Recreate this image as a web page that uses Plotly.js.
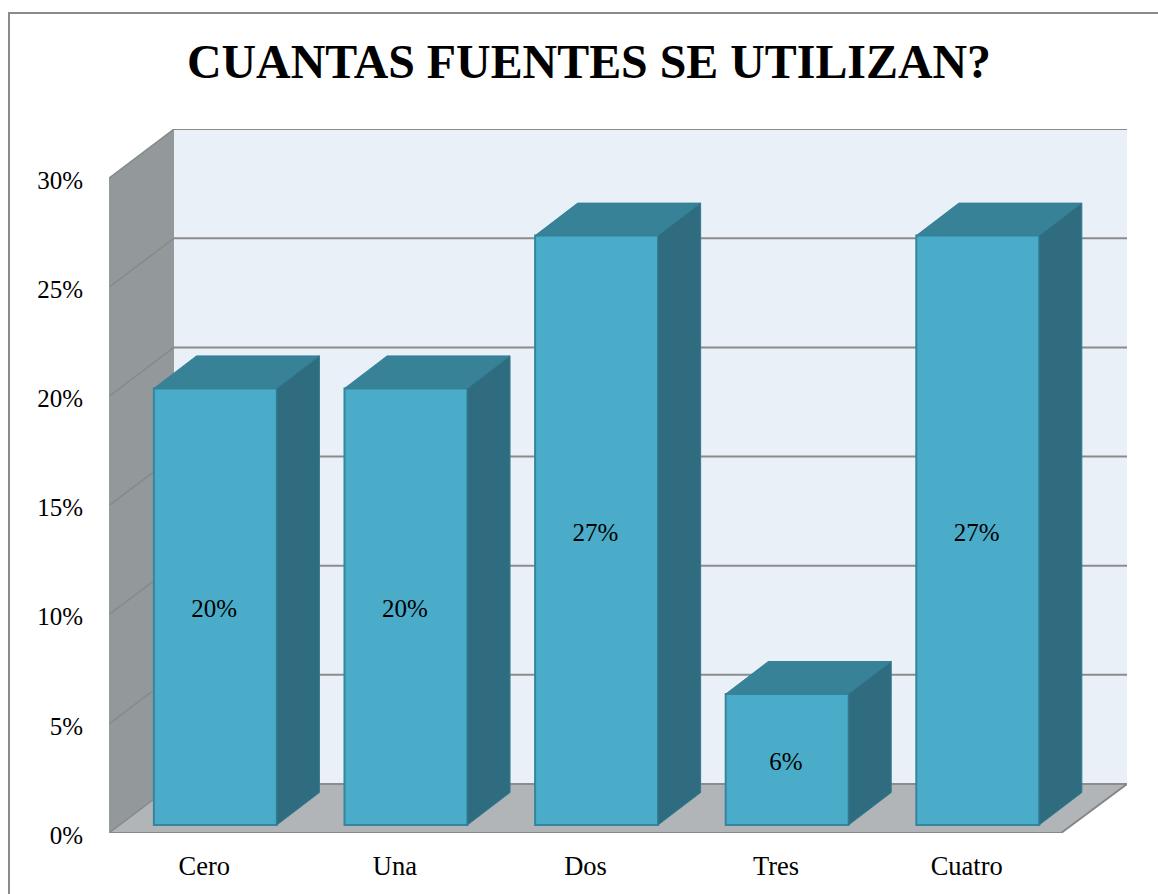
<!DOCTYPE html>
<html>
<head>
<meta charset="utf-8">
<script src="https://cdn.plot.ly/plotly-3.0.1.min.js"></script>
<style>html,body{margin:0;padding:0;background:#fff}#chart{width:1158px;height:894px}</style>
</head>
<body>
<div id="chart"></div>
<script>
const chartTitle = 'CUANTAS FUENTES SE UTILIZAN?';
const categories = ['Cero', 'Una', 'Dos', 'Tres', 'Cuatro'];
const values = [20, 20, 27, 6, 27];
const gridValues = [0, 5, 10, 15, 20, 25, 30];
const tickLabels = ['0%', '5%', '10%', '15%', '20%', '25%', '30%'];

// fake-3D depth, in axis units
const xMin = -0.5, xMax = 4.841, xFrontEnd = 4.495;
const yMax = 32.25, yTop = 30;
const wallDX = 0.341, wallDY = 2.245;
const barOffX = 0.058, barOffY = 0.366, barW = 0.645;
const barDX = 0.2235, barDY = 1.489;
const labelNudgeX = -0.006, labelNudgeY = -0.2;

const FONT = '"Liberation Serif", "Times New Roman", serif';
const pathOf = pts => 'M' + pts.map(p => p[0] + ',' + p[1]).join('L') + 'Z';
const linePath = pts => 'M' + pts.map(p => p[0] + ',' + p[1]).join('L');
const dataShape = (path, fill, lineColor, lineW) => ({
  type: 'path', xref: 'x', yref: 'y', layer: 'below', path: path,
  fillcolor: fill || 'rgba(0,0,0,0)', line: {color: lineColor || 'rgba(0,0,0,0)', width: lineW || 0}
});

const shapes = [];
const backL = xMin + wallDX, backR = xMax;
// back wall
shapes.push(dataShape(pathOf([[backL, wallDY], [backR, wallDY], [backR, yTop + wallDY], [backL, yTop + wallDY]]), '#e9f0f7'));
// side wall
shapes.push(dataShape(pathOf([[xMin, 0], [backL, wallDY], [backL, yTop + wallDY], [xMin, yTop]]), '#93989a'));
// floor
shapes.push(dataShape(pathOf([[xMin, 0], [xFrontEnd, 0], [backR, wallDY], [backL, wallDY]]), '#b1b5b8'));
// grid lines
gridValues.forEach(g => {
  shapes.push(dataShape(linePath([[xMin, g], [backL, g + wallDY]]), null, '#858a8b', 1.5));
  shapes.push(dataShape(linePath([[backL, g + wallDY], [backR, g + wallDY]]), null, '#8b8c8c', 2));
});
shapes.push(dataShape(linePath([[xMin, 0], [xFrontEnd, 0], [backR, wallDY]]), null, '#85888a', 2));
shapes.push(dataShape(linePath([[xMin, 0], [xMin, yTop]]), null, '#9a9ea0', 1));
// outer frame
const fx = px => (px - 109) / 1018, fy = py => (833 - py) / 704;
shapes.push({type: 'path', xref: 'paper', yref: 'paper', layer: 'below',
  path: 'M' + fx(9) + ',' + fy(894) + 'L' + fx(9) + ',' + fy(13) + 'L' + fx(1158) + ',' + fy(13),
  line: {color: '#8b8b8b', width: 2}});

const traces = [];
const barX = categories.map((c, i) => i + barOffX);
// front faces
traces.push({
  type: 'bar', x: barX, y: values, base: barOffY, width: barW,
  marker: {color: '#4aacc9', line: {color: '#34869f', width: 2}},
  hoverinfo: 'skip', showlegend: false
});
// top and right faces
values.forEach((v, i) => {
  const l = barX[i] - barW / 2, r = barX[i] + barW / 2, t = v + barOffY, b = barOffY;
  traces.push({type: 'scatter', mode: 'lines', fill: 'toself', fillcolor: '#388298',
    x: [l, r, r + barDX, l + barDX, l], y: [t, t, t + barDY, t + barDY, t],
    line: {color: '#34809a', width: 1}, hoverinfo: 'skip', showlegend: false});
  traces.push({type: 'scatter', mode: 'lines', fill: 'toself', fillcolor: '#306c7f',
    x: [r, r + barDX, r + barDX, r, r], y: [b, b + barDY, t + barDY, t, b],
    line: {color: '#307a90', width: 1}, hoverinfo: 'skip', showlegend: false});
});
// value labels
traces.push({type: 'scatter', mode: 'text',
  x: barX.map(x => x + labelNudgeX), y: values.map(v => barOffY + v / 2 + labelNudgeY),
  text: values.map(v => v + '%'), textposition: 'middle center',
  textfont: {family: FONT, size: 25, color: '#000'}, hoverinfo: 'skip', showlegend: false});

const layout = {
  width: 1158, height: 894,
  margin: {l: 109, r: 31, t: 129, b: 61, pad: 0},
  paper_bgcolor: '#ffffff', plot_bgcolor: 'rgba(0,0,0,0)',
  showlegend: false,
  font: {family: FONT, size: 25, color: '#000'},
  title: {text: chartTitle, x: 589 / 1158, xanchor: 'center', xref: 'container', y: 1 - 61 / 894, yanchor: 'middle', yref: 'container',
    font: {family: FONT, size: 47.9, weight: 700, color: '#000'}},
  xaxis: {range: [xMin, xMax], tickmode: 'array', tickvals: categories.map((c, i) => i), ticktext: categories,
    showgrid: false, zeroline: false, showline: false, ticks: '', ticklabelstandoff: 14, tickfont: {family: FONT, size: 26.5, color: '#000'}},
  yaxis: {range: [0, yMax], tickmode: 'array', tickvals: gridValues, ticktext: tickLabels,
    showgrid: false, zeroline: false, showline: false, ticks: '', ticklabelstandoff: 25, ticklabelshift: 2, tickfont: {family: FONT, size: 25, color: '#000'}},
  shapes: shapes
};
Plotly.newPlot('chart', traces, layout, {displayModeBar: false, staticPlot: true});
</script>
</body>
</html>
